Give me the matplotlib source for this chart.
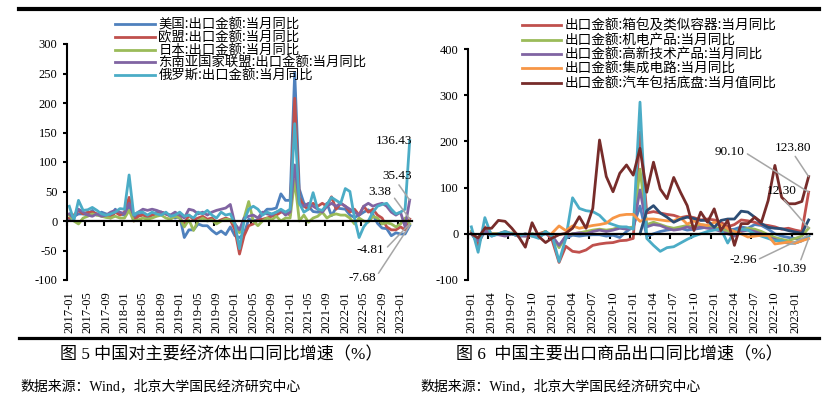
import matplotlib
matplotlib.use('Agg')
import matplotlib.pyplot as plt
from matplotlib.lines import Line2D
import numpy as np

plt.rcParams['font.family'] = ['Liberation Serif', 'Noto Sans CJK SC', 'DejaVu Sans']
plt.rcParams['axes.unicode_minus'] = False

nan = np.nan

# ---- 图5 数据 (2017-01 ~ 2023-03) ----
left_months = [f'{y}-{m:02d}' for y in range(2017, 2024) for m in range(1, 13)][:75]

us = [3, 8, 12, 12, 10, 18, 10, 15, 12, 8, 20, 12,
      10, 25, 5, 10, 12, 5, 10, 15, 15, 12, 10, 5,
      8, -28, -15, -15, -5, -8, -8, -16, -22, -17, -23, -10,
      -25, -28, -22, 3, 1, 1, 12, 20, 20, 22, 46, 35,
      35, 252, 54, 30, 25, 16, 15, 15, 30, 9, 22, 21,
      20, 10, 6, 10, 15, 19, 11, -4, -12, -13, -25, -20,
      -22, -22, -7.68]
eu = [5, 10, 18, 12, 15, 15, 12, 10, 10, 5, 15, 10,
      15, 40, 0, 8, 10, 8, 10, 12, 15, 12, 8, 10,
      5, -5, 10, 2, 5, 8, 3, 5, -2, 2, 5, 2,
      -15, -56, -25, -8, -5, 2, 3, 5, 8, 10, 15, 15,
      10, 208, 40, 25, 20, 30, 25, 30, 25, 41, 20, 30,
      25, 15, 20, 10, 25, 15, 20, 10, 5, -10, -15, -15,
      -10, -15, 3.38]
japan = [10, 0, -5, 5, 8, 12, 10, 8, 6, 5, 8, 5,
         5, 18, 0, 2, 5, 3, 5, 8, 10, 5, 3, 8,
         5, -10, 2, -16, 0, 5, 0, 2, -5, 0, 3, 2,
         -5, -20, 5, 33, 0, -8, 0, 5, 2, 8, 0, 5,
         5, 70, 0, 10, -2, 5, 8, 15, 5, 10, 12, 10,
         10, 5, -5, 5, 0, -2, 8, 5, -5, -3, -5, -10,
         -5, 5, -4.81]
asean = [12, 5, 20, 15, 10, 8, 12, 8, 10, 15, 18, 15,
         12, 30, 10, 15, 20, 18, 20, 18, 15, 12, 10, 15,
         10, 5, 20, 18, 12, 15, 10, 15, 18, 20, 22, 28,
         -5, -15, 5, 8, 10, 5, 15, 12, 10, 15, 18, 10,
         15, 95, 30, 25, 30, 25, 20, 15, 25, 30, 25, 30,
         25, 20, 15, 10, 25, 30, 25, 28, 30, 25, 15, 10,
         15, -10, 35.43]
russia = [25, 1, 35, 18, 19, 23, 18, 12, 10, 12, 15, 21,
          20, 78, 10, 15, 15, 10, 15, 12, 10, 15, 8, 10,
          15, 8, 10, 5, 15, 12, 18, 10, 5, 15, 10, 12,
          -5, -47, 0, 20, 25, 20, 10, 15, 12, 15, 20, 15,
          20, 165, 30, 15, 20, 48, 20, 18, 28, 40, 35, 30,
          55, 50, 5, -28, -10, 0, 15, 25, 28, 30, 20, 12,
          15, 20, 136.43]

# ---- 图6 数据 (2019-01 ~ 2023-03) ----
right_months = [f'{y}-{m:02d}' for y in range(2019, 2024) for m in range(1, 13)][:51]

other_blue = [0, -20, 5, -5, 0, -2, 0, -5, -3, 0, -5, 0,
              -8, -26, -10, -3, -5, -3, -2, -2, -5, -3, -8, 5,
              15, 60, -5, 0, 5, 8, 10, 12, 8, 10, 12, 15,
              10, 12, 8, 10, 15, 12, 20, 18, 10, 0, -5, -8,
              -10, -12, -5]
bags = [5, -25, 15, 0, 0, 5, 0, -5, 0, -5, 0, 5,
        -15, -62, -27, -38, -40, -35, -25, -22, -20, -19, -15, -14,
        -10, 220, 45, 48, 45, 42, 40, 35, 38, 35, 30, 32,
        30, 25, 15, 20, 30, 28, 25, 20, 18, 15, 10, 12,
        8, 5, 90.10]
mech = [5, -15, 10, 0, 0, -2, 2, -2, -5, 0, -2, 5,
        -5, -30, -5, 0, 2, 5, 8, 10, 8, 10, 15, 12,
        15, 140, 20, 25, 20, 15, 12, 15, 18, 15, 20, 18,
        15, 10, 5, 0, 8, 12, 10, 5, -2, -8, -12, -15,
        -10, -5, 12.30]
hitech = [2, -15, 8, -2, -2, -5, 0, -5, -5, -3, -2, 3,
          -5, -25, -5, 0, 2, 0, 5, 8, 5, 8, 12, 10,
          12, 95, 15, 20, 18, 12, 8, 10, 15, 10, 15, 12,
          10, 5, 0, -5, 5, 8, 5, 0, -8, -12, -18, -20,
          -20, -15, -2.96]
other_aqua = [15, -40, 35, -5, 0, 5, 0, -5, 0, -5, -10, 5,
              -5, -60, -10, 78, 55, 50, 48, 40, 25, 20, 15, 15,
              10, 285, -10, -25, -38, -30, -28, -20, -12, -5, 0, 5,
              8, 10, -20, 5, 10, 8, 0, -5, -10, -15, -15, -20,
              -20, -15, -5]
chips = [nan] * 12 + [
         2, 17, 7, 17, 12, 15, 18, 20, 23, 34, 40, 42,
         42, 27, 32, 32, 30, 28, 28, 35, 21, 28, 20, 18,
         25, 20, 11, 5, 0, -7, -5, -3, -4, -22, -20, -18,
         -20, -15, -10.39]
other_navy = [nan] * 25 + [
              0, 50, 61, 45, 36, 25, 32, 36, 33, 29, 29,
              14, 29, 32, 32, 49, 47, 36, 22, 14, 12, 11, 7,
              4, 1, 30]
autos = [0, -9, 12, 12, 29, 27, 12, -6, -29, 24, -6, -19,
         -9, -2, 1, 12, 37, 12, 55, 203, 124, 91, 131, 149,
         127, 185, 90, 155, 97, 76, 122, 90, 61, 7, 47, 25,
         54, 7, 29, -25, 22, 22, 36, 25, 72, 148, 79, 65,
         65, 70, 123.80]

left_series = [('美国:出口金额:当月同比', us, '#4F81BD'),
               ('欧盟:出口金额:当月同比', eu, '#C0504D'),
               ('日本:出口金额:当月同比', japan, '#9BBB59'),
               ('东南亚国家联盟:出口金额:当月同比', asean, '#8064A2'),
               ('俄罗斯:出口金额:当月同比', russia, '#4BACC6')]

right_series = [(None, other_blue, '#4F81BD'),
                ('出口金额:箱包及类似容器:当月同比', bags, '#C0504D'),
                ('出口金额:机电产品:当月同比', mech, '#9BBB59'),
                ('出口金额:高新技术产品:当月同比', hitech, '#8064A2'),
                (None, other_aqua, '#4BACC6'),
                ('出口金额:集成电路:当月同比', chips, '#F79646'),
                (None, other_navy, '#2C4D75'),
                ('出口金额:汽车包括底盘:当月值同比', autos, '#772C2A')]

fig = plt.figure(figsize=(8.26, 3.98), dpi=100)
W, H = 826, 398


def setup_axes(ax, months, step, ylim, ystep):
    n = len(months)
    ax.set_xlim(-0.5, n - 0.5)
    ax.set_ylim(*ylim)
    ax.set_yticks(np.arange(ylim[0], ylim[1] + 1, ystep))
    for s in ['top', 'right']:
        ax.spines[s].set_visible(False)
    ax.spines['left'].set_linewidth(1.5)
    ax.spines['bottom'].set_position(('data', 0))
    ax.spines['bottom'].set_linewidth(1.6)
    ax.set_xticks([i - 0.5 for i in range(0, n, step)])
    ax.tick_params(axis='x', direction='out', length=3.5, width=1.5, labelbottom=False)
    ax.tick_params(axis='y', direction='out', length=3, width=1.5, labelsize=9, pad=4)
    sec = ax.secondary_xaxis('bottom')
    sec.set_xticks(list(range(0, n, step)), labels=months[::step], rotation=90, fontsize=9)
    sec.tick_params(length=0, pad=8)
    sec.spines['bottom'].set_visible(False)


def label_end(ax, values, text, dx, dy, ha='right', relpos=None):
    x = len(values) - 1
    kw = dict(textcoords='offset pixels', ha=ha, va='center', fontsize=9.5)
    if relpos is not None:
        kw['arrowprops'] = dict(arrowstyle='-', color='#A6A6A6', lw=1.1,
                                shrinkA=0, shrinkB=0, relpos=relpos)
    ax.annotate(text, xy=(x, values[-1]), xytext=(dx, -dy), **kw)


# ---- 左图 ----
axl = fig.add_axes([67 / W, 1 - 280 / H, 345 / W, 236 / H])
xl = np.arange(len(left_months))
for name, vals, color in left_series:
    axl.plot(xl, vals, color=color, lw=2, label=name)
setup_axes(axl, left_months, 4, (-100, 300), 50)

label_end(axl, russia, '136.43', 2, 0)
label_end(axl, asean, '35.43', 2, -24, relpos=(0.5, 0))
label_end(axl, eu, '3.38', -18, -27, relpos=(1, 0.3))
label_end(axl, japan, '-4.81', -25, 26, relpos=(1, 0.5))
label_end(axl, us, '-7.68', -34, 52, relpos=(1, 0.5))

fig.legend(*axl.get_legend_handles_labels(), loc='upper left',
           bbox_to_anchor=(115 / W, 1 - 18 / H), frameon=False,
           prop={'family': ['Noto Sans CJK SC'], 'size': 9.6},
           handlelength=3.0, handletextpad=0.25, labelspacing=-0.1,
           borderpad=0, borderaxespad=0)

# ---- 右图 ----
axr = fig.add_axes([468 / W, 1 - 280 / H, 344 / W, 231 / H])
xr = np.arange(len(right_months))
handles = []
for name, vals, color in right_series:
    line, = axr.plot(xr, vals, color=color, lw=2)
    if name is not None:
        handles.append((line, name))
setup_axes(axr, right_months, 3, (-100, 400), 100)

label_end(axr, bags, '90.10', -64, -40, relpos=(1, 0.5))
label_end(axr, autos, '123.80', 3, -29, relpos=(0.5, 0))
label_end(axr, mech, '12.30', -12, -37, relpos=(0.5, 0))
label_end(axr, hitech, '-2.96', -52, 25, relpos=(1, 0.5))
label_end(axr, chips, '-10.39', -2, 30, relpos=(0.8, 1))

fig.legend([h[0] for h in handles], [h[1] for h in handles], loc='upper left',
           bbox_to_anchor=(522 / W, 1 - 19 / H), frameon=False,
           prop={'family': ['Noto Sans CJK SC'], 'size': 9.8},
           handlelength=2.9, handletextpad=0.25, labelspacing=0.03,
           borderpad=0, borderaxespad=0)

# ---- 标题、来源与分隔线 ----
fig.add_artist(Line2D([19 / W, 819 / W], [1 - 9 / H, 1 - 9 / H], color='black', lw=3,
                      transform=fig.transFigure))
fig.add_artist(Line2D([19 / W, 819 / W], [1 - 338 / H, 1 - 338 / H], color='black', lw=2.3,
                      transform=fig.transFigure))

fig.text(221 / W, 1 - 355 / H, '图 5 中国对主要经济体出口同比增速（%）',
         ha='center', va='center', fontsize=12.3)
fig.text(619 / W, 1 - 355 / H, '图 6  中国主要出口商品出口同比增速（%）',
         ha='center', va='center', fontsize=12.3)
fig.text(20 / W, 1 - 386 / H, '数据来源：Wind，北京大学国民经济研究中心',
         ha='left', va='center', fontsize=10, fontweight='medium')
fig.text(420 / W, 1 - 386 / H, '数据来源：Wind，北京大学国民经济研究中心',
         ha='left', va='center', fontsize=10, fontweight='medium')

fig.savefig('out.png', dpi=100)
